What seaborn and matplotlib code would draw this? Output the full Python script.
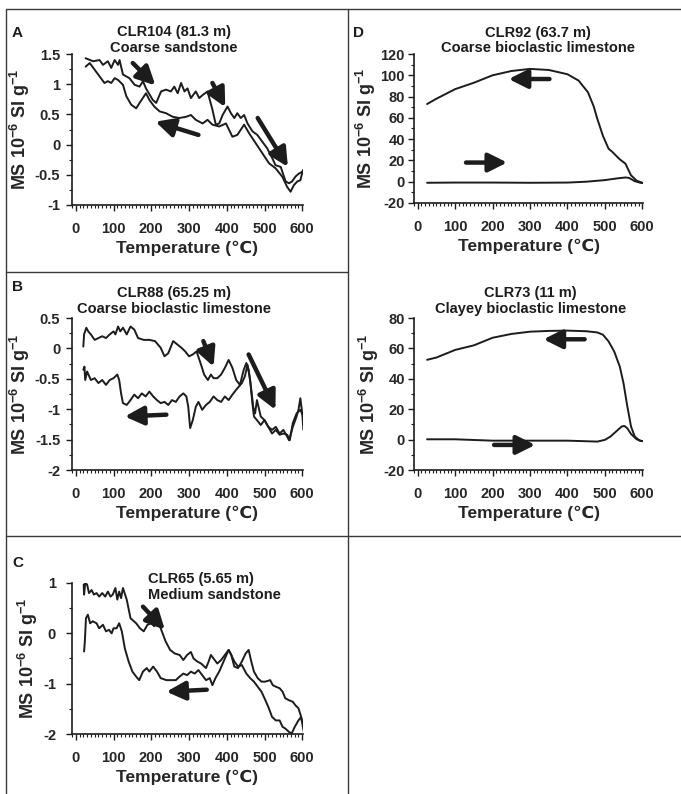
import numpy as np
import pandas as pd
import matplotlib
matplotlib.use("Agg")
import matplotlib.pyplot as plt
import seaborn as sns
from matplotlib.lines import Line2D
from matplotlib.ticker import MultipleLocator, FuncFormatter

sns.set_style("ticks")
plt.rcParams['font.family'] = ['Liberation Sans', 'DejaVu Sans']
plt.rcParams['font.weight'] = 'bold'
plt.rcParams['axes.unicode_minus'] = False
plt.rcParams['mathtext.fontset'] = 'custom'
plt.rcParams['mathtext.rm'] = 'Liberation Sans:bold'
plt.rcParams['mathtext.bf'] = 'Liberation Sans:bold'
plt.rcParams['mathtext.default'] = 'bf'

# --- data ---
# A: CLR104
A_HEAT_T = [26, 46, 63, 72, 85, 94, 103, 112, 116, 125, 142, 156, 169, 178, 186, 204, 213, 226, 239, 252,
            261, 270, 279, 288, 296, 305, 318, 327, 336, 349, 362, 371, 380, 389, 402, 411, 420, 428, 437,
            446, 455, 468, 481, 494, 507, 521, 529, 543, 556, 565, 573, 582, 591, 600]
A_HEAT_MS = [1.43, 1.38, 1.40, 1.32, 1.38, 1.27, 1.40, 1.32, 1.40, 1.16, 1.10, 0.99, 0.96, 1.05, 0.93, 0.74,
             0.69, 0.88, 0.91, 0.88, 0.96, 0.85, 1.02, 0.88, 0.93, 0.77, 0.88, 0.77, 0.82, 0.88, 0.58, 0.33,
             0.35, 0.49, 0.63, 0.52, 0.44, 0.52, 0.44, 0.49, 0.35, 0.22, 0.16, 0.05, -0.06, -0.23, -0.34,
             -0.37, -0.61, -0.64, -0.61, -0.53, -0.48, -0.45]
A_COOL_T = [26, 37, 50, 63, 76, 85, 94, 103, 112, 125, 134, 147, 160, 169, 186, 195, 208, 222, 239, 257,
            274, 292, 305, 318, 336, 349, 362, 380, 398, 415, 428, 446, 459, 477, 494, 512, 529, 547, 560,
            569, 578, 587, 595, 602]
A_COOL_MS = [1.29, 1.35, 1.24, 1.13, 1.02, 1.05, 1.02, 1.10, 1.07, 0.99, 0.80, 0.66, 0.60, 0.69, 0.85, 0.74,
             0.63, 0.55, 0.52, 0.46, 0.44, 0.46, 0.49, 0.41, 0.35, 0.41, 0.33, 0.30, 0.35, 0.13, 0.16, 0.33,
             0.19, 0.02, -0.14, -0.31, -0.39, -0.53, -0.70, -0.78, -0.67, -0.61, -0.59, -0.42]

# B: CLR88
B_HEAT_T = [20, 22, 28, 33, 40, 50, 60, 70, 80, 90, 100, 105, 112, 118, 125, 135, 145, 155, 165, 180, 195,
            210, 225, 235, 245, 258, 270, 280, 290, 300, 310, 320, 332, 340, 350, 358, 365, 375, 385, 395,
            405, 415, 425, 435, 445, 452, 458, 465, 470, 475, 480, 490, 500, 510, 520, 530, 540, 550, 560,
            565, 575, 585, 590, 595, 600, 603]
B_HEAT_MS = [0.03, 0.23, 0.34, 0.28, 0.23, 0.14, 0.17, 0.20, 0.17, 0.23, 0.28, 0.23, 0.36, 0.28, 0.34, 0.23,
             0.36, 0.31, 0.17, 0.14, 0.14, 0.12, 0.01, -0.13, -0.08, 0.12, 0.06, 0.01, -0.05, -0.13, -0.10,
             -0.05, -0.27, -0.43, -0.52, -0.43, -0.49, -0.49, -0.43, -0.32, -0.19, -0.32, -0.52, -0.60,
             -0.35, -0.24, -0.35, -0.68, -0.96, -1.07, -0.85, -1.12, -1.18, -1.29, -1.34, -1.29, -1.40,
             -1.34, -1.45, -1.51, -1.29, -1.12, -1.01, -0.82, -1.07, -1.34]
B_COOL_T = [20, 23, 25, 30, 40, 50, 60, 70, 80, 90, 100, 110, 115, 120, 125, 135, 145, 155, 165, 175, 185,
            195, 205, 215, 225, 235, 245, 255, 265, 275, 285, 293, 298, 303, 310, 318, 325, 335, 345, 355,
            365, 375, 385, 395, 405, 415, 425, 440, 448, 455, 462, 468, 472, 480, 490, 500, 510, 520, 530,
            540, 550, 560, 567, 575, 585, 595, 603]
B_COOL_MS = [-0.35, -0.30, -0.52, -0.38, -0.52, -0.49, -0.57, -0.52, -0.60, -0.52, -0.49, -0.43, -0.52,
             -0.74, -0.90, -0.93, -0.85, -0.76, -0.82, -0.74, -0.79, -0.71, -0.79, -0.85, -0.90, -0.88,
             -0.93, -0.85, -0.88, -0.79, -0.74, -0.79, -0.96, -1.31, -1.18, -0.96, -0.88, -1.01, -0.93,
             -0.88, -0.79, -0.85, -0.88, -0.79, -0.85, -0.76, -0.68, -0.57, -0.46, -0.27, -0.52, -0.90,
             -1.12, -1.18, -1.26, -1.18, -1.29, -1.40, -1.34, -1.42, -1.40, -1.42, -1.51, -1.23, -1.07,
             -1.01, -1.12]

# C: CLR65
C_HEAT_T = [21, 22, 25, 30, 35, 42, 48, 55, 62, 70, 78, 85, 92, 98, 105, 110, 115, 120, 125, 135, 145, 160,
            170, 180, 190, 200, 208, 212, 220, 228, 238, 250, 262, 275, 285, 295, 305, 312, 322, 332, 345,
            352, 358, 368, 375, 385, 395, 405, 412, 420, 430, 440, 450, 458, 465, 472, 482, 492, 502, 515,
            522, 530, 540, 548, 555, 565, 575, 582, 590, 596, 600, 605]
C_HEAT_MS = [0.97, 0.77, 1.00, 0.97, 0.80, 0.86, 0.77, 0.80, 0.73, 0.80, 0.73, 0.83, 0.73, 0.77, 0.90, 0.67,
             0.83, 0.70, 0.90, 0.67, 0.30, 0.20, 0.10, 0.04, 0.17, 0.20, 0.14, 0.27, 0.20, 0.04, -0.16, -0.33,
             -0.40, -0.43, -0.53, -0.43, -0.37, -0.50, -0.56, -0.60, -0.69, -0.56, -0.43, -0.53, -0.60,
             -0.53, -0.43, -0.33, -0.43, -0.66, -0.69, -0.56, -0.40, -0.33, -0.56, -0.76, -0.89, -0.96,
             -0.96, -0.93, -1.03, -1.06, -1.09, -1.16, -1.29, -1.33, -1.36, -1.43, -1.49, -1.63, -1.79, -2.0]
C_COOL_T = [22, 24, 27, 32, 38, 45, 55, 62, 72, 80, 88, 95, 100, 108, 115, 122, 130, 140, 150, 160, 168,
            178, 188, 195, 205, 215, 225, 240, 255, 265, 275, 285, 295, 305, 315, 325, 335, 345, 355, 362,
            370, 380, 395, 405, 412, 420, 430, 440, 452, 462, 472, 482, 492, 500, 510, 520, 530, 540, 548,
            555, 565, 572, 580, 590, 597, 603, 606]
C_COOL_MS = [-0.36, -0.16, 0.30, 0.37, 0.20, 0.24, 0.20, 0.10, 0.17, 0.04, 0.07, 0.00, 0.10, 0.10, 0.20,
             0.04, -0.30, -0.56, -0.76, -0.86, -0.93, -0.76, -0.69, -0.76, -0.66, -0.76, -0.89, -0.93,
             -0.93, -0.93, -0.86, -0.80, -0.83, -0.76, -0.80, -0.73, -0.83, -0.93, -0.89, -1.03, -0.89,
             -0.76, -0.50, -0.33, -0.43, -0.56, -0.66, -0.63, -0.80, -0.89, -0.96, -1.06, -1.16, -1.29,
             -1.46, -1.66, -1.73, -1.73, -1.86, -1.89, -1.96, -1.99, -1.86, -1.73, -1.66, -1.83, -2.0]

# D (top): CLR92
D1_HEAT_T = [25, 100, 200, 300, 400, 450, 500, 530, 555, 565, 580, 595, 608]
D1_HEAT_MS = [-1, -0.8, -0.8, -1, -0.8, 0, 1.5, 3, 4, 3.5, 0.5, -1, -1.5]
D1_COOL_T = [25, 50, 100, 150, 200, 250, 300, 350, 400, 430, 455, 470, 480, 495, 510, 520, 540, 555,
             570, 585, 600, 608]
D1_COOL_MS = [73, 78, 87, 93, 100, 104, 106, 105, 101, 95, 84, 71, 59, 43, 31, 28, 21, 17, 6, 1, -1, -1.5]

# D (bottom): CLR73
D2_HEAT_T = [25, 50, 100, 200, 300, 400, 480, 500, 515, 530, 545, 552, 560, 570, 585, 598, 608]
D2_HEAT_MS = [0.2, 0.2, 0.2, -0.7, -0.7, -0.7, -1.3, -0.2, 2, 5.3, 8.6, 9, 7.5, 3.7, 0.2, -0.9, -1.3]
D2_COOL_T = [25, 50, 100, 150, 200, 250, 300, 350, 400, 450, 480, 495, 510, 525, 540, 550, 560, 570,
             580, 593, 608]
D2_COOL_MS = [52.5, 54, 59, 62, 67, 69.5, 71, 71.5, 71.7, 71.3, 70.5, 69, 64.6, 58, 48, 37, 22, 8.6, 2,
              -0.7, -1.3]

YLABEL = r'MS 10$^{-6}$ SI g$^{-1}$'
XLABEL = 'Temperature (\u2103)'
INK = '#1c1c1c'


def fmt(v, pos):
    return '%g' % v


def draw_panel(ax, heat_t, heat_ms, cool_t, cool_ms, ylim, ymajor, yminor, title, arrows,
               title_xy, title_ha='center', ypad=4):
    df = pd.concat([
        pd.DataFrame({'T': heat_t, 'MS': heat_ms, 'run': 'heating'}),
        pd.DataFrame({'T': cool_t, 'MS': cool_ms, 'run': 'cooling'}),
    ])
    for run, sub in df.groupby('run'):
        sns.lineplot(data=sub, x='T', y='MS', sort=False, estimator=None, ax=ax,
                     color=INK, linewidth=1.4)
    for (x0, y0, x1, y1) in arrows:
        ax.annotate('', xy=(x1, y1), xytext=(x0, y0),
                    arrowprops=dict(arrowstyle='-|>,head_length=0.8,head_width=0.4',
                                    mutation_scale=14, lw=3.2, color=INK, shrinkA=0, shrinkB=0))
    ax.set_xlim(-10, 602)
    ax.set_ylim(*ylim)
    ax.xaxis.set_major_locator(MultipleLocator(100))
    ax.xaxis.set_minor_locator(MultipleLocator(10))
    ax.yaxis.set_major_locator(MultipleLocator(ymajor))
    ax.yaxis.set_minor_locator(MultipleLocator(yminor))
    ax.yaxis.set_major_formatter(FuncFormatter(fmt))
    ax.tick_params(which='major', length=4.5, width=1, labelsize=10.5, color=INK)
    ax.tick_params(axis='x', which='major', pad=8)
    ax.tick_params(axis='y', which='major', pad=ypad)
    ax.tick_params(which='minor', length=2.5, width=0.8, color=INK)
    for lab in ax.get_xticklabels() + ax.get_yticklabels():
        lab.set_fontweight('bold')
    sns.despine(ax=ax)
    for s in ('left', 'bottom'):
        ax.spines[s].set_linewidth(1.2)
        ax.spines[s].set_color(INK)
    ax.set_xlabel(XLABEL, fontsize=12.5, fontweight='bold', labelpad=3)
    ax.set_ylabel(YLABEL, fontsize=13, fontweight='bold', labelpad=2)
    ax.text(title_xy[0], title_xy[1], title, transform=ax.transAxes, ha=title_ha, va='top',
            fontsize=10.5, fontweight='bold', linespacing=1.15, color=INK)


W, H = 681, 794
fig = plt.figure(figsize=(W / 100, H / 100), dpi=100)


def px_axes(left, top, right, bottom):
    return fig.add_axes([left / W, 1 - bottom / H, (right - left) / W, (bottom - top) / H])


axA = px_axes(72, 54, 303, 205)
axB = px_axes(72, 318, 303, 470)
axC = px_axes(72, 583, 303, 734)
axD1 = px_axes(414, 54, 643, 203)
axD2 = px_axes(414, 318, 643, 470)

draw_panel(axA, A_HEAT_T, A_HEAT_MS, A_COOL_T, A_COOL_MS, (-1, 1.5), 0.5, 0.25,
           'CLR104 (81.3 m)\nCoarse sandstone',
           [(151, 1.35, 211, 0.98), (362, 1.02, 396, 0.62), (325, 0.16, 211, 0.38), (482, 0.44, 562, -0.37)],
           title_xy=(0.44, 1.19), ypad=4)
draw_panel(axB, B_HEAT_T, B_HEAT_MS, B_COOL_T, B_COOL_MS, (-2, 0.5), 0.5, 0.25,
           'CLR88 (65.25 m)\nCoarse bioclastic limestone',
           [(338, 0.12, 365, -0.30), (458, -0.10, 529, -1.01), (240, -1.09, 130, -1.12)],
           title_xy=(0.44, 1.21), ypad=4)
draw_panel(axC, C_HEAT_T, C_HEAT_MS, C_COOL_T, C_COOL_MS, (-2, 1), 1, 0.5,
           'CLR65 (5.65 m)\nMedium sandstone',
           [(178, 0.53, 236, 0.07), (347, -1.12, 240, -1.16), (564, -0.83, 612, -1.53)],
           title_xy=(0.33, 1.07), title_ha='left', ypad=7)
draw_panel(axD1, D1_HEAT_T, D1_HEAT_MS, D1_COOL_T, D1_COOL_MS, (-20, 120), 20, 10,
           'CLR92 (63.7 m)\nCoarse bioclastic limestone',
           [(352, 96.5, 243, 96.5), (129, 18, 239, 18)],
           title_xy=(0.54, 1.19), ypad=2)
draw_panel(axD2, D2_HEAT_T, D2_HEAT_MS, D2_COOL_T, D2_COOL_MS, (-20, 80), 20, 10,
           'CLR73 (11 m)\nClayey bioclastic limestone',
           [(446, 66, 336, 66), (204, -3.5, 314, -3.5)],
           title_xy=(0.51, 1.21), ypad=2)

# panel frame lines
frame = [((6, 681), (9, 9)), ((6, 6), (9, 794)), ((348, 348), (9, 794)),
         ((6, 348), (272, 272)), ((6, 681), (536, 536))]
for xs, ys in frame:
    fig.add_artist(Line2D([x / W for x in xs], [1 - y / H for y in ys], color='#3a3a3a', lw=1.0))

for letter, (x, y) in {'A': (12, 33), 'B': (12, 287), 'C': (12, 563), 'D': (353, 33)}.items():
    fig.text(x / W, 1 - y / H, letter, fontsize=11, fontweight='bold', va='center', ha='left', color=INK)

fig.savefig('out.png', dpi=100, facecolor='white')
